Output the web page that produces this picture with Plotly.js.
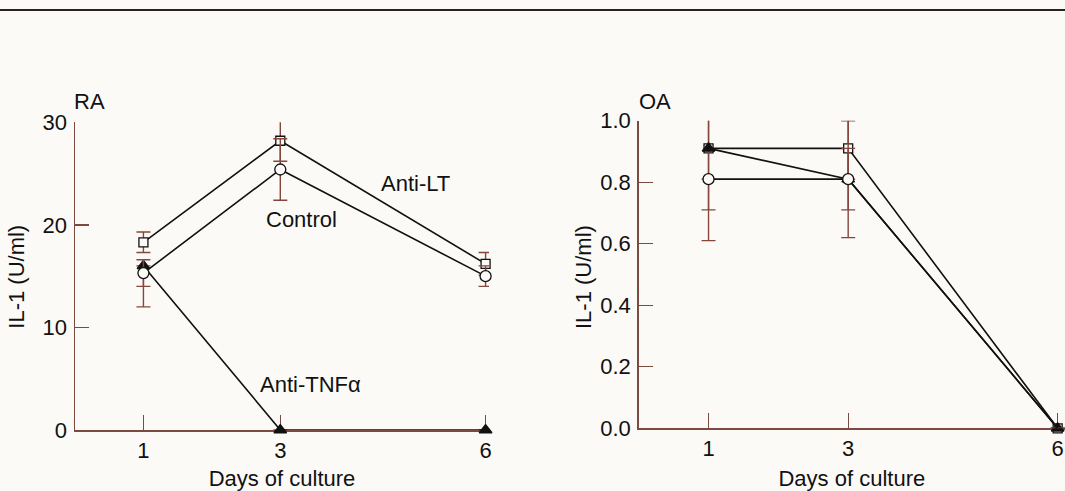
<!DOCTYPE html>
<html>
<head>
<meta charset="utf-8">
<script src="https://cdn.plot.ly/plotly-3.0.1.min.js"></script>
<style>
html,body{margin:0;padding:0;background:#fcfaf7;}
#chart{width:1065px;height:491px;}
</style>
</head>
<body>
<div id="chart"></div>
<script>
// ---- Data ----
const days = [1, 3, 6];

// RA panel
const raAntiLT = [18.3, 28.2, 16.2];
const raAntiLTErr = [1.0, 2.0, 1.1];
const raControl = [15.3, 25.4, 15.0];
const raControlErr = [1.3, 3.0, 1.0];
const raAntiTNF = [16.0, 0, 0];
const raAntiTNFErrMinus = [4.0, 0, 0];
const raAntiTNFErrPlus = [0, 0, 0];

// OA panel
const oaAntiLT = [0.91, 0.91, 0];
const oaAntiLTErr = [0.2, 0.1, 0];
const oaControl = [0.81, 0.81, 0];
const oaControlErr = [0, 0.19, 0];
const oaAntiTNF = [0.91, 0.81, 0];
const oaAntiTNFErr = [0.3, 0.1, 0];

const raYTicks = [0, 10, 20, 30];
const oaYTicks = [0, 0.2, 0.4, 0.6, 0.8, 1.0];
const oaYTickText = ["0.0", "0.2", "0.4", "0.6", "0.8", "1.0"];

// ---- Styling ----
const axCol = '#7b4a40';
const errCol = '#85463c';
const FONT = 'Liberation Sans, Arial, Helvetica, sans-serif';
const fs = 22;

function series(x, y, xa, ya, symbol, fill, size, errPlus, errMinus) {
  return {
    x: x, y: y, xaxis: xa, yaxis: ya, type: 'scatter', mode: 'lines+markers',
    line: {color: '#111', width: 1.6},
    marker: {symbol: symbol, size: size, color: fill, opacity: 1, line: {color: '#111', width: 1.3}},
    error_y: {type: 'data', symmetric: errMinus === undefined, array: errPlus,
              arrayminus: errMinus, color: errCol, thickness: 1.4, width: 7},
    cliponaxis: false, showlegend: false, hoverinfo: 'skip'
  };
}

const data = [
  series(days, raAntiTNF, 'x', 'y', 'triangle-up', '#111', 11, raAntiTNFErrPlus, raAntiTNFErrMinus),
  series(days, raAntiLT, 'x', 'y', 'square', '#fcfaf7', 9, raAntiLTErr),
  series(days, raControl, 'x', 'y', 'circle', '#fcfaf7', 11, raControlErr),
  series(days, oaAntiLT, 'x2', 'y2', 'square', '#fcfaf7', 9, oaAntiLTErr),
  series(days, oaAntiTNF, 'x2', 'y2', 'triangle-up', '#111', 11, oaAntiTNFErr),
  // control markers hidden under the triangle at the last point (as in the original figure)
  series(days, oaControl, 'x2', 'y2', 'circle', '#fcfaf7', [11, 11, 0], oaControlErr),
];

function xax(domain, range) {
  return {
    domain: domain, range: range, tickvals: days, ticktext: days.map(String),
    ticks: 'inside', ticklen: 15, tickwidth: 1.3, tickcolor: axCol,
    showline: true, linecolor: axCol, linewidth: 1.5, zeroline: false, showgrid: false,
    layer: 'below traces',
    tickfont: {family: FONT, size: fs, color: '#111'}, ticklabelstandoff: 0,
    title: {text: 'Days of culture', font: {family: FONT, size: fs, color: '#111'}, standoff: 13},
    fixedrange: true
  };
}
function yax(domain, range, tv, tt, anchor) {
  return {
    domain: domain, range: range, tickvals: tv, ticktext: tt, anchor: anchor,
    ticks: 'inside', ticklen: 14, tickwidth: 1.3, tickcolor: axCol,
    showline: true, linecolor: axCol, linewidth: 1.5, zeroline: false, showgrid: false,
    layer: 'below traces',
    tickfont: {family: FONT, size: fs, color: '#111'}, ticklabelstandoff: 2,
    fixedrange: true
  };
}

function note(text, px, py, angle) {
  return {text: text, xref: 'paper', yref: 'paper', x: px / 1065, y: 1 - py / 491,
          xanchor: 'center', yanchor: 'middle', showarrow: false, textangle: angle || 0,
          font: {family: FONT, size: fs, color: '#111'}};
}

const layout = {
  width: 1065, height: 491,
  margin: {l: 0, r: 0, t: 0, b: 0},
  paper_bgcolor: '#fcfaf7', plot_bgcolor: 'rgba(0,0,0,0)',
  xaxis: Object.assign(xax([75/1065, 489/1065], [0, 6.05]), {anchor: 'y'}),
  yaxis: yax([61/491, 368.7/491], [0, 30], raYTicks, raYTicks.map(String), 'x'),
  xaxis2: Object.assign(xax([638.7/1065, 1], [0, 6.105]), {anchor: 'y2'}),
  yaxis2: yax([62.7/491, 370.3/491], [0, 1], oaYTicks, oaYTickText, 'x2'),
  shapes: [
    {type: 'line', xref: 'paper', yref: 'paper', x0: 0, x1: 1, y0: 1 - 10/491, y1: 1 - 10/491,
     line: {color: '#2a2220', width: 2}}
  ],
  annotations: [
    note('RA', 89, 101.7),
    note('OA', 655, 101.7),
    note('Anti-LT', 415, 183),
    note('Control', 301.7, 219.3),
    note('Anti-TNFα', 310, 384),
    note('IL-1 (U/ml)', 17, 276.7, -90),
    note('IL-1 (U/ml)', 583.3, 276.7, -90)
  ]
};

Plotly.newPlot('chart', data, layout, {displayModeBar: false, staticPlot: true});
</script>
</body>
</html>
